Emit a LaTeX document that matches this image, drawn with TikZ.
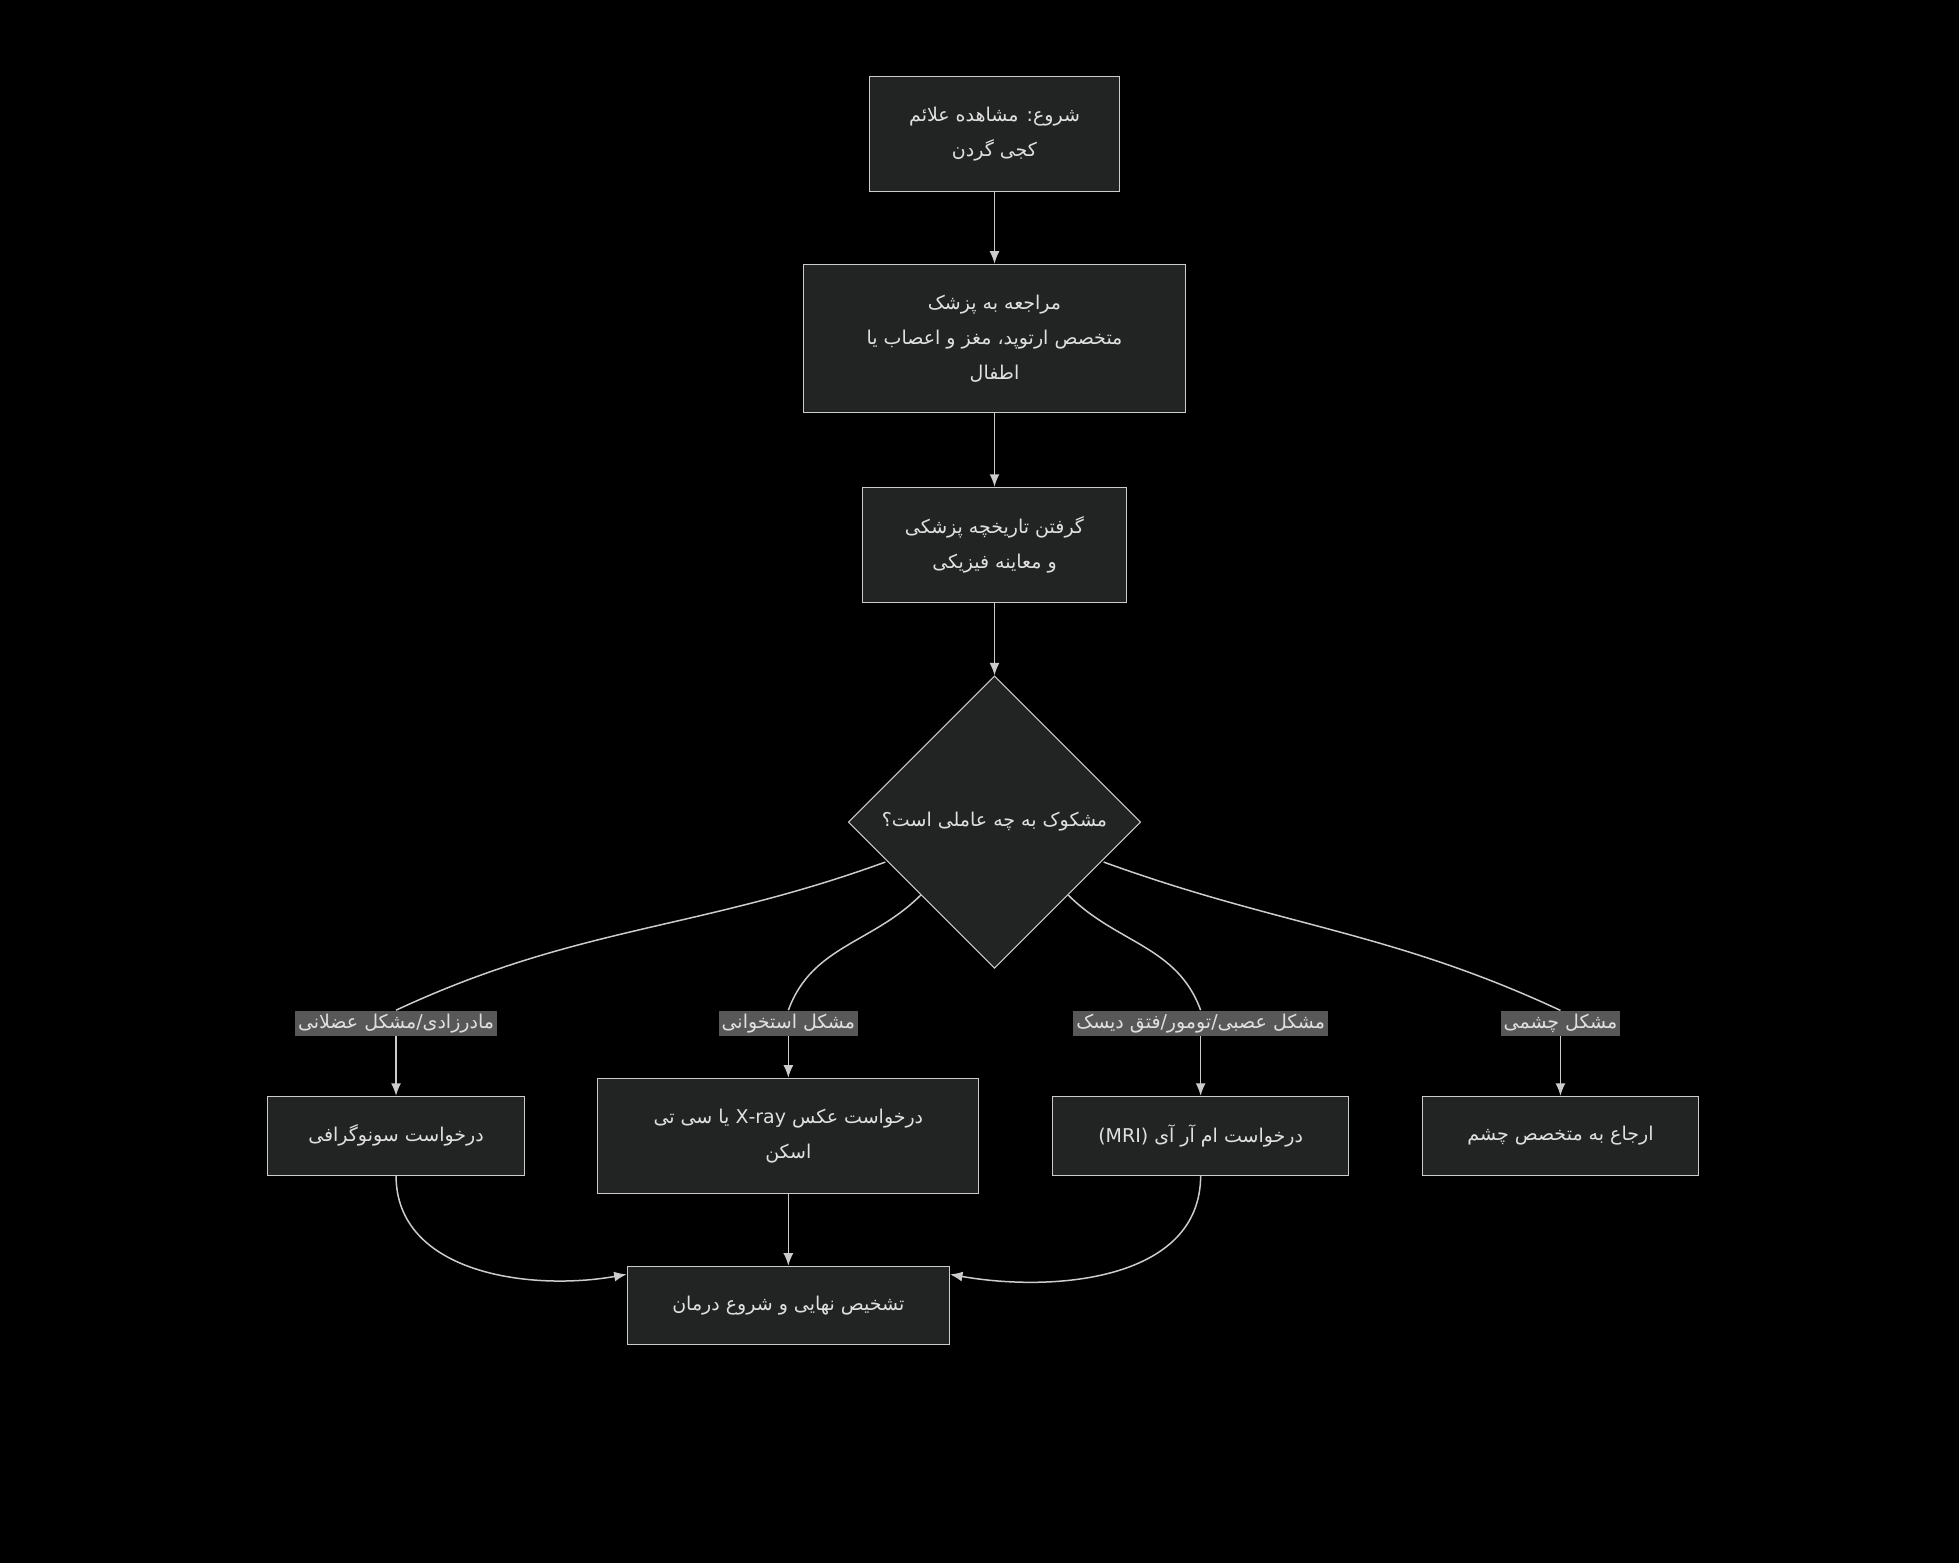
\documentclass[tikz,border=0pt]{standalone}
\usepackage{fontspec}
\newfontfamily\farsi[Script=Arabic]{DejaVu Sans}
\usetikzlibrary{arrows.meta,shapes.geometric}
\TeXXeTstate=1
\newcommand{\fa}[1]{\beginR #1\endR}
\definecolor{boxfill}{HTML}{222323}
\definecolor{boxline}{HTML}{CCCCCC}
\definecolor{labfill}{HTML}{585858}
\begin{document}
\begin{tikzpicture}[x=0.5pt, y=-0.5pt, >={Latex[length=5pt,width=4pt]}, every node/.style={font=\farsi\fontsize{7.6}{14}\selectfont, text=white!88!black}]
% Define styles for blocks, decision and edge labels
\tikzstyle{block} = [draw=boxline, fill=boxfill, rectangle, align=center, inner sep=0pt]
\tikzstyle{decision} = [draw=boxline, fill=boxfill, diamond, aspect=1, minimum width=117pt, minimum height=117pt, inner sep=0pt]
\tikzstyle{tag} = [fill=labfill, inner sep=1.2pt]
\tikzstyle{line} = [draw=boxline, line width=0.6pt]

\fill[black] (0,0) rectangle (1568,1251);

% Nodes placement
\node [block, minimum width=100pt, minimum height=46pt] (start) at (796,107) {\fa{شروع: مشاهده علائم}\\ \fa{کجی گردن}};
\node [block, minimum width=153pt, minimum height=59.5pt] (visit) at (796,271) {\fa{مراجعه به پزشک}\\ \fa{متخصص ارتوپد، مغز و اعصاب یا}\\ \fa{اطفال}};
\node [block, minimum width=106pt, minimum height=46pt] (history) at (796,436) {\fa{گرفتن تاریخچه پزشکی}\\ \fa{و معاینه فیزیکی}};
\node [decision] (cause) at (796,658) {\fa{مشکوک به چه عاملی است؟}};
\node [tag] (tagmus) at (317,819) {\fa{مادرزادی/مشکل عضلانی}};
\node [tag] (tagbone) at (631,819) {\fa{مشکل استخوانی}};
\node [tag] (tagnerve) at (961,819) {\fa{مشکل عصبی/تومور/فتق دیسک}};
\node [tag] (tageye) at (1249,819) {\fa{مشکل چشمی}};
\node [block, minimum width=102.5pt, minimum height=31.5pt] (sono) at (317,909) {\fa{درخواست سونوگرافی}};
\node [block, minimum width=152.5pt, minimum height=46pt] (xray) at (631,909) {\fa{درخواست عکس \beginL X-ray\endL{} یا سی تی}\\ \fa{اسکن}};
\node [block, minimum width=118.5pt, minimum height=31.5pt] (mri) at (961,909) {\fa{درخواست ام آر آی \beginL(MRI)\endL}};
\node [block, minimum width=110.5pt, minimum height=31.5pt] (eye) at (1249,909) {\fa{ارجاع به متخصص چشم}};
\node [block, minimum width=129pt, minimum height=31.5pt] (final) at (631,1045) {\fa{تشخیص نهایی و شروع درمان}};

% Draw edges
\draw[line,->] (start) -- (visit);
\draw[line,->] (visit) -- (history);
\draw[line,->] (history) -- (cause);

% Branches through the labels
\draw[line] (cause.west) ++(30,32) to[out=200,in=25] (tagmus.north);
\draw[line,->] (tagmus.south) to[out=270,in=90] (sono.north);
\draw[line] (cause.south) ++(-59,-59) to[out=225,in=70] (tagbone.north);
\draw[line,->] (tagbone.south) to[out=270,in=90] (xray.north);
\draw[line] (cause.south) ++(59,-59) to[out=-45,in=110] (tagnerve.north);
\draw[line,->] (tagnerve.south) to[out=270,in=90] (mri.north);
\draw[line] (cause.east) ++(-30,32) to[out=-20,in=155] (tageye.north);
\draw[line,->] (tageye.south) to[out=270,in=90] (eye.north);

% Merge into final diagnosis
\draw[line,->] (sono.south) to[out=270,in=190] (final.west |- 0,1020);
\draw[line,->] (xray) -- (final);
\draw[line,->] (mri.south) to[out=270,in=-10] (final.east |- 0,1020);
\end{tikzpicture}
\end{document}
